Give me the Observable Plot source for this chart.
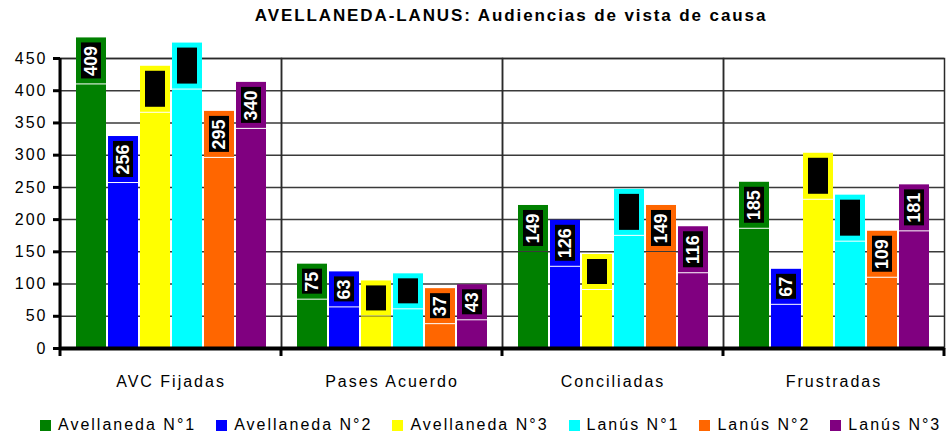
<!DOCTYPE html>
<html>
<head>
<meta charset="utf-8">
<script src="https://cdn.jsdelivr.net/npm/d3@7"></script>
<script src="https://cdn.jsdelivr.net/npm/@observablehq/plot@0.6"></script>
<style>
  html, body { margin: 0; padding: 0; background: #fff; }
  #wrap { position: relative; width: 946px; height: 436px; font-family: "Liberation Sans", Arial, sans-serif; color: #000; }
  #title { position: absolute; top: 6px; left: 76px; width: 870px; text-align: center; font-weight: bold; font-size: 17px; letter-spacing: 1.9px; }
  #chart { position: absolute; top: 0; left: 0; }
  #legend { position: absolute; top: 416px; left: 40px; display: flex; gap: 20px; font-size: 16px; letter-spacing: 2px; white-space: nowrap; }
  #legend .item { display: flex; align-items: center; }
  #legend .sw { width: 11px; height: 11px; margin-right: 7px; }
  [aria-label*="tick label"] { letter-spacing: 2px; }
</style>
</head>
<body>
<div id="wrap">
  <div id="title"></div>
  <div id="chart"></div>
  <div id="legend"></div>
</div>
<script>
const title = "AVELLANEDA-LANUS: Audiencias de vista de causa";
const categories = ["AVC Fijadas", "Pases Acuerdo", "Conciliadas", "Frustradas"];
const series = ["Avellaneda N°1", "Avellaneda N°2", "Avellaneda N°3", "Lanús N°1", "Lanús N°2", "Lanús N°3"];
const avellaneda1 = [409, 75, 149, 185];
const avellaneda2 = [256, 63, 126, 67];
const avellaneda3 = [365, 49, 90, 230];
const lanus1 = [401, 60, 174, 165];
const lanus2 = [295, 37, 149, 109];
const lanus3 = [340, 43, 116, 181];
const yTicks = [0, 50, 100, 150, 200, 250, 300, 350, 400, 450];

// styling
const colors = ["#008000", "#0000ff", "#ffff00", "#00ffff", "#ff6600", "#800080"];
const hiddenLabelSeries = ["Avellaneda N°3", "Lanús N°1"];

const seriesValues = [avellaneda1, avellaneda2, avellaneda3, lanus1, lanus2, lanus3];
const data = [];
series.forEach((s, si) => categories.forEach((c, ci) => data.push({cat: c, series: s, value: seriesValues[si][ci]})));

const W = 946, H = 400, mT = 58, mB = 52, mL = 60, mR = 2;
const yMax = 450;
const k = (H - mT - mB) / yMax; // px per unit
const labels = data.map(d => {
  const n = String(d.value).length;
  const boxH = 11 * n + 13;
  return {...d, y1: d.value + 1 / k, y2: d.value + (1 + boxH) / k, ym: d.value + (1 + boxH / 2) / k};
});

const plot = Plot.plot({
  width: W, height: H,
  marginTop: mT, marginBottom: mB, marginLeft: mL, marginRight: mR,
  style: {fontFamily: "'Liberation Sans', Arial, sans-serif", fontSize: "16px", color: "#000", overflow: "visible"},
  fx: {domain: categories, padding: 0},
  x: {domain: series, paddingInner: 0.07, paddingOuter: 0.4, axis: null},
  y: {domain: [0, yMax]},
  color: {domain: series, range: colors},
  marks: [
    Plot.gridY(yTicks, {stroke: "#3a3a3a", strokeOpacity: 1, strokeWidth: 1.5}),
    Plot.frame({stroke: "#2a2a2a", strokeWidth: 1.5}),
    Plot.barY(data, {fx: "cat", x: "series", y: "value", fill: "series"}),
    Plot.barY(labels, {fx: "cat", x: "series", y1: "y1", y2: "y2", fill: "series"}),
    Plot.barY(labels, {fx: "cat", x: "series", y1: "y1", y2: "y2", fill: "black", insetLeft: 5, insetRight: 5, insetTop: 5, insetBottom: 5}),
    Plot.text(labels, {filter: d => !hiddenLabelSeries.includes(d.series), fx: "cat", x: "series", y: "ym", text: d => String(d.value), rotate: -90, fill: "white", fontSize: 18, fontWeight: "bold", textAnchor: "middle", lineAnchor: "middle"}),
    Plot.text(labels, {filter: d => hiddenLabelSeries.includes(d.series), fx: "cat", x: "series", y: "ym", text: d => String(d.value), rotate: -90, fill: "black", fontSize: 18, fontWeight: "bold", textAnchor: "middle", lineAnchor: "middle"}),
    Plot.ruleY([0], {stroke: "black", strokeWidth: 4}),
    Plot.axisY(yTicks, {tickSize: 7, tickPadding: 6, strokeWidth: 3, stroke: "black", fontSize: 16, label: null}),
    Plot.axisFx({anchor: "bottom", tickSize: 0, tickPadding: 27, fontSize: 16, label: null})
  ]
});

// axis line and category boundary ticks from the plot's own scales
const fxS = plot.scale("fx"), yS = plot.scale("y");
const x0 = fxS.apply(categories[0]);
const bounds = categories.map(c => fxS.apply(c)).concat([fxS.apply(categories[categories.length - 1]) + fxS.bandwidth]);
const svgSel = d3.select(plot.tagName === "svg" ? plot : plot.querySelector("svg"));
const g = svgSel.append("g").attr("stroke", "black");
g.append("line").attr("x1", x0).attr("x2", x0).attr("y1", yS.apply(yMax)).attr("y2", yS.apply(0) + 2).attr("stroke-width", 3);
bounds.forEach(b => g.append("line").attr("x1", b).attr("x2", b).attr("y1", yS.apply(0)).attr("y2", yS.apply(0) + 8).attr("stroke-width", 3));

document.getElementById("chart").appendChild(plot);
document.getElementById("title").textContent = title;
const leg = d3.select("#legend");
series.forEach((s, i) => {
  const it = leg.append("div").attr("class", "item");
  it.append("div").attr("class", "sw").style("background", colors[i]);
  it.append("span").text(s);
});
</script>
</body>
</html>
